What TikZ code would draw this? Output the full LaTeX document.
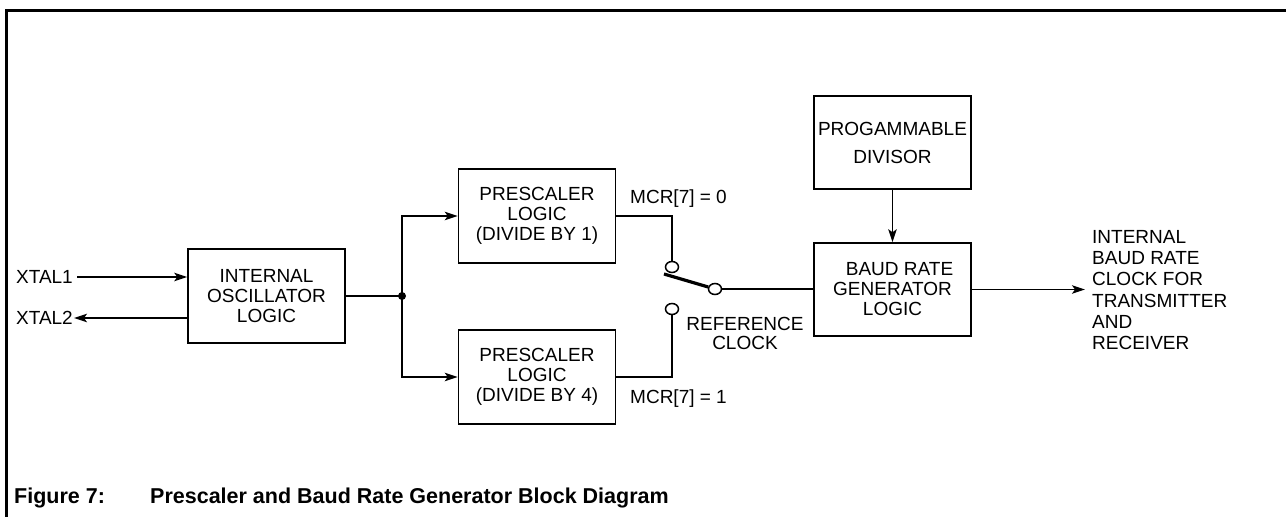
\documentclass[tikz,border=0pt]{standalone}
\usepackage{fontspec}
\setmainfont{Liberation Sans}
\usetikzlibrary{arrows.meta,shapes.geometric}
\begin{document}
\begin{tikzpicture}[x=1pt,y=-1pt,
  blk/.style={draw, line width=1.5pt, minimum width=157pt, minimum height=94pt, inner sep=0pt, align=center, font=\fontsize{19}{20}\selectfont},
  lbl/.style={inner sep=0pt, font=\fontsize{19}{20}\selectfont},
  wire/.style={line width=1.5pt},
  arr/.style={wire, -{Stealth[length=13pt,width=8.5pt,inset=3pt]}},
  contact/.style={ellipse, draw, fill=white, line width=1.5pt, minimum width=13pt, minimum height=11pt, inner sep=0pt},
  jdot/.style={circle, fill, minimum size=8pt, inner sep=0pt},
  captxt/.style={anchor=base west, inner sep=0pt, font=\fontsize{21.5}{22}\selectfont\bfseries},
]
\useasboundingbox (0,0) rectangle (1286,517);
\draw[line width=3pt] (6,517) -- (6,10) -- (1286,10);

% blocks
\node[blk] (osc) at (266.5,296) {INTERNAL\\OSCILLATOR\\LOGIC};
\node[blk] (pre1) at (537,216) {PRESCALER\\LOGIC\\(DIVIDE BY 1)};
\node[blk] (pre4) at (537,377) {PRESCALER\\LOGIC\\(DIVIDE BY 4)};
\node[blk, minimum height=93pt] (baud) at (892.5,289.5) {\hspace*{14pt}BAUD RATE\\GENERATOR\\LOGIC};
\node[blk, minimum height=93pt, font=\fontsize{19}{28}\selectfont] (div) at (892.5,142.5) {PROGAMMABLE\\DIVISOR};

% labels
\node[lbl, anchor=east] (x1) at (73,277) {XTAL1};
\node[lbl, anchor=east] (x2) at (73,318) {XTAL2};
\node[lbl, anchor=base west] (m0) at (630,203) {MCR[7] = 0};
\node[lbl, anchor=base west] (m1) at (630,403) {MCR[7] = 1};
\node[lbl, align=center, font=\fontsize{19}{18.5}\selectfont] (ref) at (745,333.5) {REFERENCE\\CLOCK};
\node[lbl, anchor=west, align=left, font=\fontsize{19}{21.2}\selectfont] (out) at (1092,290) {INTERNAL\\BAUD RATE\\CLOCK FOR\\TRANSMITTER\\AND\\RECEIVER};

% switch
\node[contact] (c1) at (672,267) {};
\node[contact] (c4) at (672,309) {};
\node[contact] (cp) at (715,289) {};
\coordinate (lv) at (664,274);

% junction
\node[jdot] (j) at (402,296) {};

% connectors
\draw[arr] ([xshift=4pt]x1.east) -- (x1.east -| osc.west);
\draw[arr] (x2.east -| osc.west) -- ([xshift=1pt]x2.east);
\draw[wire] (osc.east) -- (j.center);
\draw[arr] (j.center) |- (pre1.west);
\draw[arr] (j.center) |- (pre4.west);
\draw[wire] (pre1.east) -| (c1.north);
\draw[wire] (pre4.east) -| (c4.south);
\draw[line width=3.2pt] (lv) -- (cp);
\draw[wire] (cp.east) -- (cp.east -| baud.west);
\draw[arr] (div.south) -- (baud.north);
\draw[arr] (baud.east) -- ([xshift=-7pt]baud.east -| out.west);

% caption
\node[captxt] (fig) at (14,503) {Figure 7:};
\node[captxt] (cap) at (150,503) {Prescaler and Baud Rate Generator Block Diagram};
\end{tikzpicture}
\end{document}
